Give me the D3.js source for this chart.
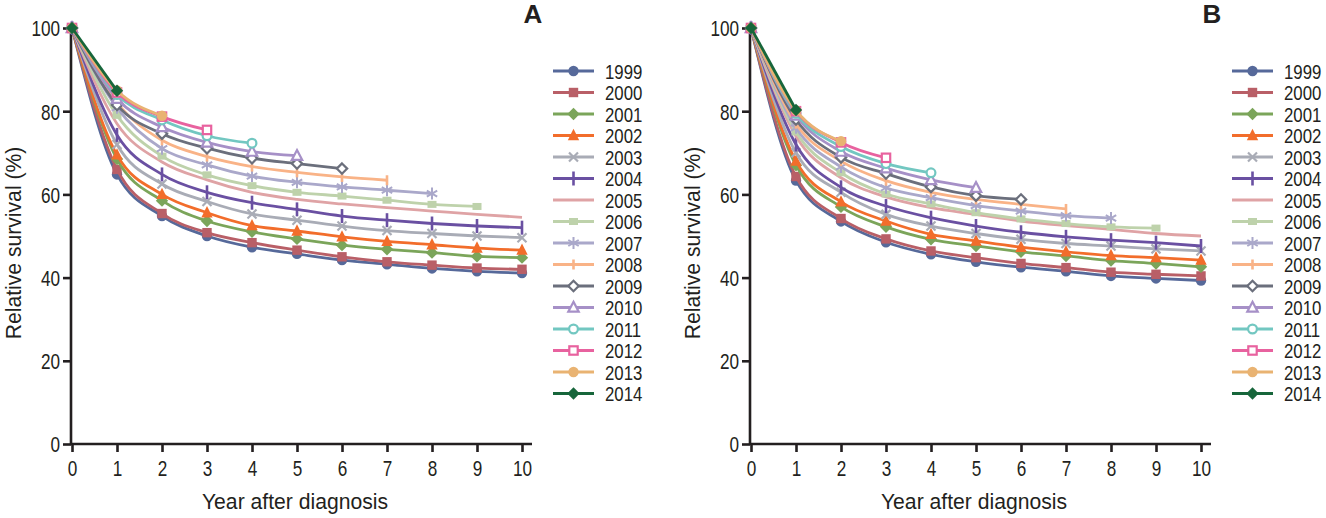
<!DOCTYPE html>
<html><head><meta charset="utf-8">
<script src="https://cdn.jsdelivr.net/npm/d3@7"></script>
<style>
body{margin:0;background:#fff;}
text{font-family:"Liberation Sans","Arial",sans-serif;fill:#231f20;}
</style></head><body>
<svg id="chart" width="1326" height="518"></svg>
<script>
const years = [0,1,2,3,4,5,6,7,8,9,10];
const cohorts = ["1999","2000","2001","2002","2003","2004","2005","2006","2007","2008","2009","2010","2011","2012","2013","2014"];
const colors = ["#56699a","#b95f67","#7ba55a","#f26d2b","#a9acb6","#6a50a2","#dfa3a5","#bed2ab","#aaa8ca","#f9b387","#6b6f7c","#a690c7","#72c7c1","#e8629f","#e9b372","#17663b"];
const symbolsList = ["circle","square","diamond","triangle","cross","plus","none","smallsquare","asterisk","tick","hdiamond","htriangle","hcircle","hsquare","circle","diamond"];
const yTicks = [0,20,40,60,80,100];
const xTicks = [0,1,2,3,4,5,6,7,8,9,10];

const survA = [
 [100,64.8,54.8,50.0,47.3,45.7,44.2,43.2,42.2,41.5,41.1],
 [100,66.0,55.4,50.8,48.4,46.6,45.0,43.8,43.0,42.3,42.0],
 [100,68.5,58.5,53.6,51.0,49.3,47.8,46.8,46.0,45.1,44.8],
 [100,69.5,60.0,55.6,52.5,51.2,49.8,48.7,47.9,47.1,46.6],
 [100,72.0,62.5,58.3,55.3,53.8,52.4,51.3,50.6,50.0,49.6],
 [100,74.3,64.8,60.5,58.0,56.4,54.8,53.8,53.0,52.4,52.0],
 [100,77.0,67.8,63.5,60.5,58.8,57.7,56.8,56.0,55.2,54.5],
 [100,79.0,69.2,64.7,62.1,60.5,59.6,58.6,57.6,57.1],
 [100,80.8,71.0,67.1,64.4,62.9,61.8,61.0,60.2],
 [100,82.0,73.0,69.1,66.7,65.3,64.2,63.4],
 [100,81.5,74.6,71.1,68.7,67.4,66.2],
 [100,83.0,76.2,72.5,70.3,69.3],
 [100,84.0,77.9,74.1,72.3],
 [100,84.5,78.7,75.5],
 [100,85.0,78.9],
 [100,84.9]
];
const survB = [
 [100,63.3,53.5,48.5,45.6,43.8,42.5,41.5,40.4,39.8,39.3],
 [100,64.3,54.2,49.3,46.4,44.8,43.4,42.4,41.3,40.8,40.4],
 [100,67.0,57.0,52.2,49.2,47.6,46.2,45.2,44.1,43.4,42.6],
 [100,68.0,58.2,53.6,50.4,48.8,47.3,46.2,45.3,44.8,44.2],
 [100,70.0,60.5,55.2,52.4,50.6,49.2,48.2,47.6,46.9,46.4],
 [100,72.0,61.7,57.2,54.4,52.4,50.9,49.8,49.0,48.4,47.6],
 [100,74.0,64.0,59.4,56.8,55.2,53.6,52.5,51.6,50.6,50.0],
 [100,75.0,65.2,60.1,57.7,55.6,54.1,53.0,52.2,51.9],
 [100,76.0,66.6,61.6,59.2,57.3,56.0,54.9,54.3],
 [100,77.0,68.0,63.3,60.5,58.8,57.6,56.5],
 [100,78.0,68.9,65.0,61.8,59.7,58.8],
 [100,79.0,70.3,66.3,63.5,61.6],
 [100,79.5,71.5,67.4,65.2],
 [100,80.0,72.5,68.8],
 [100,80.2,72.8],
 [100,80.3]
];

const SX = 0.78;
const svg = d3.select("#chart");

function ctext(parent, x, y, str, size, anchor, extra, sx){
  return parent.append("text")
    .attr("transform", `translate(${x},${y}) ${extra||""} scale(${sx||SX},1)`)
    .attr("text-anchor", anchor).style("font-size", size+"px").text(str);
}
function condense(sel){
  sel.each(function(){
    const t = d3.select(this);
    const x = +t.attr("x")||0, y = +t.attr("y")||0;
    t.attr("transform", `translate(${x},${y}) scale(${SX},1) translate(${-x},${-y})`);
  });
}

function drawMarker(g, type, color, x, y){
  const s = 5.2;
  if(type==="none") return;
  if(type==="circle") g.append("circle").attr("cx",x).attr("cy",y).attr("r",s).attr("fill",color);
  else if(type==="hcircle") g.append("circle").attr("cx",x).attr("cy",y).attr("r",s-0.8).attr("fill","#fff").attr("stroke",color).attr("stroke-width",2.2);
  else if(type==="square") g.append("rect").attr("x",x-s+0.5).attr("y",y-s+0.5).attr("width",2*s-1).attr("height",2*s-1).attr("fill",color);
  else if(type==="smallsquare") g.append("rect").attr("x",x-4.5).attr("y",y-3.5).attr("width",9).attr("height",7).attr("fill",color);
  else if(type==="hsquare") g.append("rect").attr("x",x-s+1).attr("y",y-s+1).attr("width",2*s-2).attr("height",2*s-2).attr("fill","#fff").attr("stroke",color).attr("stroke-width",2.2);
  else if(type==="diamond") g.append("path").attr("d",`M${x},${y-s-1}L${x+s+1},${y}L${x},${y+s+1}L${x-s-1},${y}Z`).attr("fill",color);
  else if(type==="hdiamond") g.append("path").attr("d",`M${x},${y-s}L${x+s},${y}L${x},${y+s}L${x-s},${y}Z`).attr("fill","#fff").attr("stroke",color).attr("stroke-width",2.2);
  else if(type==="triangle") g.append("path").attr("d",`M${x},${y-s-1.5}L${x+s+0.5},${y+s-0.5}L${x-s-0.5},${y+s-0.5}Z`).attr("fill",color);
  else if(type==="htriangle") g.append("path").attr("d",`M${x},${y-s-0.5}L${x+s},${y+s-1}L${x-s},${y+s-1}Z`).attr("fill","#fff").attr("stroke",color).attr("stroke-width",2.2);
  else if(type==="cross") g.append("path").attr("d",`M${x-4.5},${y-4.5}L${x+4.5},${y+4.5}M${x+4.5},${y-4.5}L${x-4.5},${y+4.5}`).attr("stroke",color).attr("stroke-width",2.2);
  else if(type==="plus") g.append("path").attr("d",`M${x},${y-7}L${x},${y+7}`).attr("stroke",color).attr("stroke-width",2.6);
  else if(type==="tick") g.append("path").attr("d",`M${x},${y-5}L${x},${y+5}`).attr("stroke",color).attr("stroke-width",2.6);
  else if(type==="asterisk") g.append("path").attr("d",`M${x},${y-6}L${x},${y+6}M${x-5.2},${y-3}L${x+5.2},${y+3}M${x+5.2},${y-3}L${x-5.2},${y+3}`).attr("stroke",color).attr("stroke-width",2);
}

function panel(data, x0, x1, label, legX){
  const x = d3.scaleLinear().domain([0,10]).range([x0,x1]);
  const y = d3.scaleLinear().domain([0,100]).range([444,28]);
  const g = svg.append("g");
  const ax = g.append("g").attr("transform","translate(0,444)")
    .call(d3.axisBottom(x).tickValues(xTicks).tickSize(8).tickPadding(5).tickFormat(d3.format("d")));
  const ay = g.append("g").attr("transform",`translate(${x0-1},0)`)
    .call(d3.axisLeft(y).tickValues(yTicks).tickSize(8).tickPadding(3));
  [ax,ay].forEach(a=>{
    a.select(".domain").attr("stroke","#231f20").attr("stroke-width",2.6);
    a.selectAll(".tick line").attr("stroke","#231f20").attr("stroke-width",2.6);
    a.selectAll("text").style("font-size","22px").attr("fill","#231f20");
  });
  ax.select(".domain").attr("d",`M${x0-1},0H${x1+10}`);
  ay.select(".domain").attr("d",`M0,444V28`);
  ax.selectAll(".tick text").attr("y",32).attr("dy",null);
  ay.selectAll(".tick text").attr("x",-11).attr("dy","0.36em");
  condense(ax.selectAll(".tick text"));
  condense(ay.selectAll(".tick text"));
  ctext(g, (x0+x1)/2 - 2, 509, "Year after diagnosis", 22.5, "middle", "", 0.94);
  ctext(g, x0-51, 243, "Relative survival (%)", 22.5, "middle", "rotate(-90)", 0.94);
  g.append("text").attr("x",x1+11).attr("y",23).attr("text-anchor","middle").style("font-size","26px").style("font-weight","bold").text(label);

  const line = d3.line().x((d,i)=>x(years[i])).y(d=>y(d)).curve(d3.curveMonotoneX);
  data.forEach((vals,k)=>{
    const c = colors[k];
    const sg = g.append("g");
    sg.append("path").attr("d",line(vals)).attr("fill","none").attr("stroke",c).attr("stroke-width",2.8);
    vals.forEach((v,i)=> drawMarker(sg, symbolsList[k], c, x(years[i]), y(v)));
  });
  const lg = g.append("g");
  cohorts.forEach((name,k)=>{
    const ly = 71 + k*21.5;
    lg.append("line").attr("x1",legX).attr("x2",legX+41).attr("y1",ly).attr("y2",ly).attr("stroke",colors[k]).attr("stroke-width",2.8);
    drawMarker(lg, symbolsList[k], colors[k], legX+20.5, ly);
    ctext(lg, legX+52, ly+7.5, name, 21, "start", "", 0.8);
  });
}

panel(survA, 72, 522, "A", 553);
panel(survB, 751, 1201, "B", 1232);
</script>
</body></html>
